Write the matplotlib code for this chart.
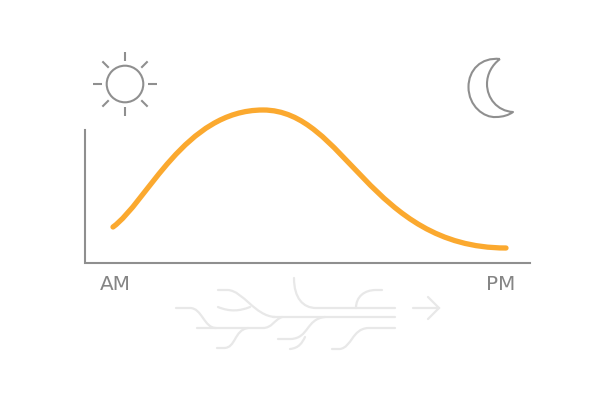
import matplotlib
matplotlib.use("Agg")
import matplotlib.pyplot as plt
import numpy as np
from matplotlib.path import Path
from matplotlib.patches import PathPatch, Circle

# colours
GREY = "#8f8f8f"
ORANGE = "#fba92f"
LIGHT = "#e8e8e8"

# activity curve (pixel positions), start / bezier / peak / bezier / end
curve = [(113, 227), "C", (147, 202), (185, 110), (263, 110),
         "C", (345, 110), (370, 248), (506, 248)]

labels = ["AM", "PM"]
label_x = [115, 501]
label_y = [284, 284]

# stream lines: each one is a start point and then cubic bezier segments
streams = [
    [(273, 317), "L", (395, 317)],
    [(294, 278), "C", (294, 298), (303, 308), (316, 308), "L", (395, 308)],
    [(356, 308), "C", (356, 297), (364, 290), (376, 290), "L", (382, 290)],
    [(197, 328), "L", (263, 328), "C", (272, 328), (274, 320), (282, 317)],
    [(176, 308), "L", (190, 308), "C", (202, 308), (204, 328), (216, 328)],
    [(217, 348), "L", (224, 348), "C", (236, 348), (234, 330), (248, 328)],
    [(218, 290), "L", (228, 290), "C", (243, 291), (255, 316), (275, 317)],
    [(218, 307), "C", (230, 312), (240, 311), (250, 307)],
    [(278, 339), "L", (291, 339), "C", (309, 338), (306, 319), (325, 317)],
    [(290, 349), "C", (299, 348), (302, 343), (305, 337)],
    [(332, 349), "L", (340, 349), "C", (352, 347), (352, 329), (368, 328), "L", (395, 328)],
    [(413, 308), "L", (439, 308)],
    [(428, 297), "L", (439, 308), "L", (428, 319)],
]

# sun
sun_center = (125, 84)
sun_radius = 18.3
ray_angles = np.arange(0, 360, 45)

# moon outline
moon = [(500, 59), "C", (481, 57), (468.5, 70), (468.5, 87),
        "C", (468.5, 106), (484, 118), (496, 117),
        "C", (503, 117), (509, 115), (513, 112),
        "C", (497, 111), (487, 98), (487, 84),
        "C", (487, 74), (492, 65), (500, 59)]


def make_path(spec):
    verts = [spec[0]]
    codes = [Path.MOVETO]
    code = None
    for item in spec[1:]:
        if isinstance(item, str):
            code = Path.LINETO if item == "L" else Path.CURVE4
        else:
            verts.append(item)
            codes.append(code)
    return Path(verts, codes)


fig = plt.figure(figsize=(6, 4), dpi=100)
ax = fig.add_axes([0, 0, 1, 1])
ax.set_xlim(0, 600)
ax.set_ylim(400, 0)
ax.axis("off")

# axes lines
ax.plot([85, 85, 530], [130, 263, 263], color=GREY, lw=1.5, solid_joinstyle="miter")

ax.add_patch(PathPatch(make_path(curve), fc="none", ec=ORANGE, lw=3.8,
                       capstyle="round", joinstyle="round"))

for x, y, s in zip(label_x, label_y, labels):
    ax.text(x, y, s, color="#858585", fontsize=14.4, ha="center", va="center", family="DejaVu Sans")

for s in streams:
    ax.add_patch(PathPatch(make_path(s), fc="none", ec=LIGHT, lw=1.6, capstyle="round"))

# sun icon
ax.add_patch(Circle(sun_center, sun_radius, fc="white", ec=GREY, lw=1.5))
for a in np.radians(ray_angles):
    ax.plot([sun_center[0] + 23 * np.cos(a), sun_center[0] + 32 * np.cos(a)],
            [sun_center[1] + 23 * np.sin(a), sun_center[1] + 32 * np.sin(a)],
            color=GREY, lw=1.5, solid_capstyle="butt")

# moon icon
ax.add_patch(PathPatch(make_path(moon), fc="white", ec=GREY, lw=1.5, joinstyle="round"))

fig.savefig("out.png", dpi=100)
